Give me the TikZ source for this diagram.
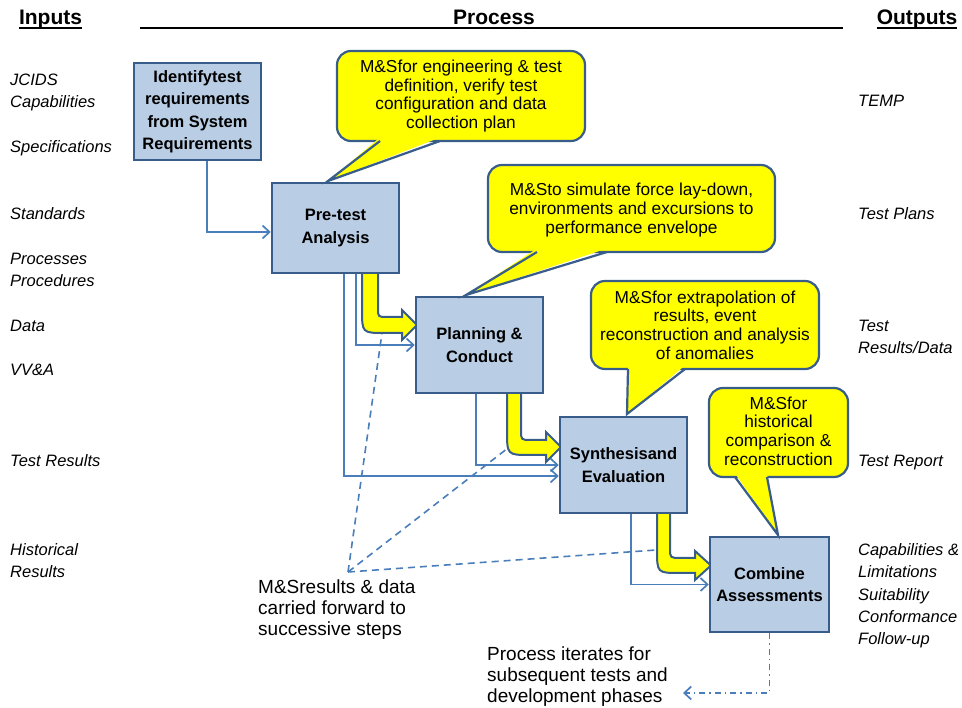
\documentclass[tikz,border=0pt]{standalone}
\usepackage{fontspec}
\setmainfont{Liberation Sans}
\usetikzlibrary{arrows.meta}
\definecolor{boxfill}{RGB}{185,205,229}
\definecolor{boxline}{RGB}{56,93,138}
\definecolor{flowline}{RGB}{74,126,187}
\definecolor{noteyellow}{RGB}{255,255,0}
\begin{document}
\begin{tikzpicture}[x=1pt,y=-1pt,
  procbox/.style={draw=boxline, fill=boxfill, line width=2.5pt, align=center,
    font=\fontsize{16.5}{22.5}\selectfont\bfseries, inner sep=0pt},
  notetext/.style={align=center, font=\fontsize{17.3}{18.6}\selectfont, inner sep=0pt},
  noteshape/.style={draw=boxline, fill=noteyellow, line width=2.2pt, rounded corners=14pt},
  notetail/.style={draw=boxline, line width=2.2pt, line join=miter},
  bigarrow/.style={fill=noteyellow, draw=boxline, line width=2pt, line join=miter},
  flow/.style={draw=flowline, line width=1.7pt, -{Straight Barb[length=7pt,width=13pt]}},
  carry/.style={draw=flowline, line width=1.6pt, dash pattern=on 7pt off 5pt},
  iterflow/.style={draw=flowline, line width=1.7pt, dash pattern=on 6pt off 4pt on 1.5pt off 4pt,
    -{Straight Barb[length=7pt,width=13pt]}},
  header/.style={font=\fontsize{21}{24}\selectfont\bfseries, anchor=base, inner sep=0pt},
  headrule/.style={line width=2.2pt},
  sidetext/.style={font=\fontsize{16.5}{22}\selectfont\itshape, anchor=base west, inner sep=0pt},
  plaintext/.style={font=\fontsize{19}{21}\selectfont, align=left, anchor=north west, inner sep=0pt}
]
\useasboundingbox (0,0) rectangle (962,708);

% column headings
\node[header] (inputs) at (50.5,25) {Inputs};
\node[header] (process) at (494,25) {Process};
\node[header] (outputs) at (917,25) {Outputs};
\draw[headrule] ([yshift=-3pt]inputs.base west) -- ([yshift=-3pt]inputs.base east);
\draw[headrule] ([yshift=-3pt]outputs.base west) -- ([yshift=-3pt]outputs.base east);
\draw[headrule] (140,28) -- (843,28);

% inputs
\node[sidetext] (in1) at (10,86) {JCIDS};
\node[sidetext] (in2) at (10,108) {Capabilities};
\node[sidetext] (in3) at (10,153) {Specifications};
\node[sidetext] (in4) at (10,220) {Standards};
\node[sidetext] (in5) at (10,265) {Processes};
\node[sidetext] (in6) at (10,287) {Procedures};
\node[sidetext] (in7) at (10,332) {Data};
\node[sidetext] (in8) at (10,376) {VV\&A};
\node[sidetext] (in9) at (10,467) {Test Results};
\node[sidetext] (in10) at (10,556) {Historical};
\node[sidetext] (in11) at (10,578) {Results};

% outputs
\node[sidetext] (out1) at (858,107) {TEMP};
\node[sidetext] (out2) at (858,220) {Test Plans};
\node[sidetext] (out3) at (858,332) {Test};
\node[sidetext] (out4) at (858,354) {Results/Data};
\node[sidetext] (out5) at (858,467) {Test Report};
\node[sidetext] (out6) at (858,555) {Capabilities \&};
\node[sidetext] (out7) at (858,578) {Limitations};
\node[sidetext] (out8) at (858,600) {Suitability};
\node[sidetext] (out9) at (858,622) {Conformance};
\node[sidetext] (out10) at (858,644) {Follow-up};

% M&S results carried forward
\coordinate (carryhub) at (348,572);
\coordinate (carry1) at (382,333);
\coordinate (carry2) at (508,448);
\coordinate (carry3) at (656,550);
\draw[carry] (carryhub) -- (carry1);
\draw[carry] (carryhub) -- (carry2);
\draw[carry] (carryhub) -- (carry3);

% main flow arrows
\filldraw[bigarrow] (362,268) -- (362,309) .. controls (362,333) .. (385,333) -- (402,333) -- (402,340)
  -- (417,325) -- (402,310) -- (402,317) -- (387,317) .. controls (378,317) .. (378,308) -- (378,268);
\filldraw[bigarrow] (507,388) -- (507,430) .. controls (507,455) .. (530,455) -- (546,455) -- (546,462)
  -- (561,447) -- (546,432) -- (546,440) -- (531,440) .. controls (521,440) .. (521,430) -- (521,388);
\filldraw[bigarrow] (657,508) -- (657,549) .. controls (657,573) .. (680,573) -- (695,573) -- (695,580)
  -- (711,565.5) -- (695,551) -- (695,558) -- (681,558) .. controls (670,558) .. (670,548) -- (670,508);

% process steps
\node[procbox, minimum width=127pt, minimum height=97pt] (identify) at (197.5,111.5)
  {Identifytest\\requirements\\from System\\Requirements};
\node[procbox, minimum width=127pt, minimum height=90pt] (pretest) at (335.5,228) {Pre-test\\Analysis};
\node[procbox, minimum width=127pt, minimum height=96pt] (planning) at (479.5,345) {Planning \&\\Conduct};
\node[procbox, minimum width=127pt, minimum height=96pt] (synth) at (623.5,465) {Synthesisand\\Evaluation};
\node[procbox, minimum width=119pt, minimum height=95pt] (combine) at (769.5,584.5) {Combine\\Assessments};

% information flow
\draw[flow] ([xshift=9.5pt]identify.south) |- ([yshift=-4pt]pretest.west);
\draw[flow] ([xshift=73pt]pretest.south west) |- ([yshift=-11pt]synth.west);
\draw[flow] ([xshift=85pt]pretest.south west) |- (planning.west);
\draw[flow] ([xshift=61pt]planning.south west) |- (synth.west);
\draw[flow] ([xshift=72pt]synth.south west) |- (combine.west);
\coordinate (iterend) at (683,693);
\draw[iterflow] (combine.south) |- (iterend);

% M&S callouts
\path[noteshape] (337,51) rectangle (585,141);
\fill[noteyellow] (380,137.5) -- (328,181) -- (440,137.5) -- cycle;
\draw[notetail] (380,141) -- (328,181) -- (440,141);
\node[notetext] (note1) at (461,96)
  {M\&Sfor engineering \& test\\definition, verify test\\configuration and data\\collection plan};

\path[noteshape] (488,165) rectangle (775,252);
\fill[noteyellow] (537,248.5) -- (466,295) -- (607,248.5) -- cycle;
\draw[notetail] (537,252) -- (466,295) -- (607,252);
\node[notetext] (note2) at (631.5,210)
  {M\&Sto simulate force lay-down,\\environments and excursions to\\performance envelope};

\path[noteshape] (591,281) rectangle (819,369);
\fill[noteyellow] (628,365.5) -- (627,414) -- (685,365.5) -- cycle;
\draw[notetail] (628,369) -- (627,414) -- (685,369);
\node[notetext] (note3) at (705,325)
  {M\&Sfor extrapolation of\\results, event\\reconstruction and analysis\\of anomalies};

\path[noteshape] (709,388) rectangle (848,477);
\fill[noteyellow] (735,473.5) -- (778,535) -- (767,473.5) -- cycle;
\draw[notetail] (735,477) -- (778,535) -- (767,477);
\node[notetext] (note4) at (778.5,431)
  {M\&Sfor\\historical\\comparison \&\\reconstruction};

% free labels
\node[plaintext] (carrylabel) at (258,580)
  {M\&Sresults \& data\\carried forward to\\successive steps};
\node[plaintext] (iterlabel) at (487,647)
  {Process iterates for\\subsequent tests and\\development phases};
\end{tikzpicture}
\end{document}
